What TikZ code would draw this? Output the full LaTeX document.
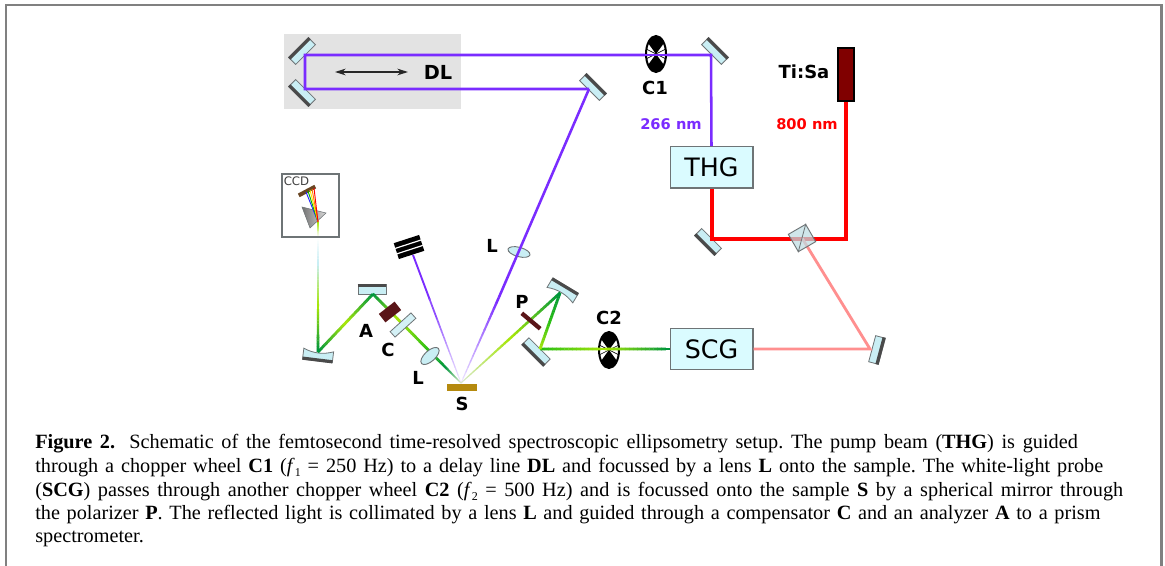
\documentclass[tikz,border=0pt]{standalone}
\usepackage{fontspec}
\setmainfont{Liberation Serif}
\newfontfamily\labfont{DejaVu Sans}
\usetikzlibrary{calc,arrows.meta,shapes.geometric}
\definecolor{framegray}{HTML}{808080}
\definecolor{pump}{RGB}{122,44,255}
\definecolor{pumppale}{HTML}{EDE4FF}
\definecolor{laserred}{RGB}{255,0,0}
\definecolor{pinkbeam}{HTML}{FF8F8F}
\definecolor{gdark}{RGB}{0,150,60}
\definecolor{gmid}{RGB}{40,190,20}
\definecolor{gyel}{RGB}{165,230,10}
\definecolor{gpale}{HTML}{D8E8C8}
\definecolor{glass}{HTML}{C9EEF4}
\definecolor{boxfill}{HTML}{DAFBFF}
\definecolor{edgegray}{HTML}{6E7476}
\definecolor{darkmetal}{HTML}{4A4A4A}
\definecolor{wine}{HTML}{5A1518}
\tikzset{
  mirrorbody/.style={draw=edgegray,line width=.6pt,fill=glass,inner sep=0pt},
  genbox/.style={draw=edgegray,line width=1pt,fill=boxfill,minimum width=62pt,minimum height=31pt,inner sep=0pt,font=\labfont\fontsize{19}{21}\selectfont},
  lab/.style={font=\labfont\bfseries\fontsize{13.5}{15}\selectfont,inner sep=0pt},
  nmlab/.style={font=\labfont\bfseries\fontsize{11}{13}\selectfont,inner sep=0pt},
  capline/.style={anchor=base west,inner sep=0pt,font=\fontsize{15.2}{17}\selectfont},
  chopperbody/.style={ellipse,draw=black,line width=1.5pt,fill=white,minimum width=15pt,minimum height=27pt,inner sep=0pt},
  lensbody/.style={ellipse,draw=edgegray,line width=.7pt,fill=glass,inner sep=0pt},
  plate/.style={draw=none,fill=wine,inner sep=0pt},
}
% name,x,y,rotation,length,thickness: dark coating on the node's north side
\newcommand\mirrorat[6]{%
  \node[mirrorbody,rotate=#4,minimum width=#5*.75pt,minimum height=#6*.75pt] (#1) at (#2,#3) {};
  \draw[darkmetal,line width=2.4pt] ($(#1.north west)!.16!(#1.south west)$) -- ($(#1.north east)!.16!(#1.south east)$);
}
% concave mirror
\newcommand\curvedmirror[4]{%
  \coordinate (#1) at (#2,#3);
  \begin{scope}[shift={(#1)},rotate=#4,x=.75pt,y=.75pt]
    \draw[edgegray,line width=.6pt,fill=glass] (-15,5) -- (15,5) -- (15,-6) .. controls (5,-2) and (-5,-2) .. (-15,-6) -- cycle;
    \draw[darkmetal,line width=2.4pt] (-15,4) -- (15,4);
  \end{scope}
}
\newcommand\chopperat[3]{%
  \node[chopperbody] (#1) at (#2,#3) {};
  \begin{scope}
    \clip (#1.center) ellipse [x radius=7.5pt,y radius=13.5pt];
    \fill[black] (#1.center) -- ++(-8pt,11pt) -- ++(0pt,5pt) -- ++(16pt,0pt) -- ++(0pt,-5pt) -- cycle;
    \fill[black] (#1.center) -- ++(-8pt,-11pt) -- ++(0pt,-5pt) -- ++(16pt,0pt) -- ++(0pt,5pt) -- cycle;
    \draw[black,line width=.5pt] (#1.center) -- ++(-8pt,4pt) (#1.center) -- ++(8pt,4pt) (#1.center) -- ++(-8pt,-4pt) (#1.center) -- ++(8pt,-4pt);
  \end{scope}
}
% from,to,w0,w1 (px),c0,c1
\newcommand\beamseg[6]{%
  \foreach \i in {0,...,15}{%
    \pgfmathtruncatemacro\pc{100*\i/15}%
    \pgfmathsetmacro\ta{\i/16}%
    \pgfmathsetmacro\tb{(\i+1.1)/16}%
    \pgfmathsetmacro\wd{(#3+(#4-#3)*\i/15)*.75}%
    \draw[line width=\wd pt,color=#6!\pc!#5] ($(#1)!\ta!(#2)$) -- ($(#1)!\tb!(#2)$);
  }%
}
\begin{document}
\begin{tikzpicture}[x=.75pt,y=-.75pt]
\useasboundingbox (0,0) rectangle (1165,566);
\fill[white] (0,0) rectangle (1165,566);
\draw[framegray,line width=1.6pt] (6,566) -- (6,5) -- (1161.5,5) -- (1161.5,566);

% delay line stage
\node[fill=black!11,draw=none,inner sep=0pt,minimum width=132.75pt,minimum height=56.25pt] (stage) at (372.5,71.5) {};
\coordinate (dlL) at (335,72); \coordinate (dlR) at (408,72);
\draw[black!85,line width=.9pt,{Stealth[length=8pt,width=5pt]}-{Stealth[length=8pt,width=5pt]}] (dlL) -- (dlR);
\node[lab,font=\labfont\bfseries\fontsize{14.5}{16}\selectfont] (DL) at (438,72) {DL};

% mirrors
\mirrorat{m1}{302}{51}{45}{28}{10}
\mirrorat{m2}{302}{93}{135}{28}{10}
\mirrorat{m3}{593}{87}{-45}{28}{10}
\mirrorat{m4}{715}{51}{-45}{28}{10}
\mirrorat{m5}{708}{242}{135}{28}{10}
\mirrorat{m6}{877}{350}{-105}{27}{10}
\mirrorat{m7}{536}{352}{135}{30}{10}
\mirrorat{m10}{372}{289}{0}{28}{10}
\curvedmirror{m8}{563}{290}{-31}
\curvedmirror{m9}{318}{356}{173}

% boxes
\node[genbox] (THG) at (711.5,167.5) {THG};
\node[genbox] (SCG) at (711.5,349) {SCG};
\node[draw=black,line width=1.5pt,fill=black!0!red!50!black,minimum width=12pt,minimum height=40pt,inner sep=0pt] (TiSa) at (846,74.5) {};

% beam vertices
\coordinate (hm1) at (305,55);
\coordinate (hm2) at (305,89);
\coordinate (hm3) at (589,89);
\coordinate (hm4) at (711,55);
\coordinate (hm5) at (712,239);
\coordinate (hm6) at (870,349);
\coordinate (hm7) at (540,349);
\coordinate (hm8) at (560,293);
\coordinate (hm9) at (318,352);
\coordinate (hm10) at (373,294);
\coordinate (hr) at (846,239);
\coordinate (hs) at (461,383);
\coordinate (hd) at (413,255);
\coordinate (hp) at (318,222);

% pump
\draw[pump,line width=1.9pt,line join=miter] (THG.north) -- (hm4) -- (hm1) -- (hm2) -- (hm3);
\node[lensbody,rotate=-15,minimum width=17pt,minimum height=7pt] (L1) at (519,252) {};
\coordinate (fadeA) at ($(L1)!.35!(hs)$);
\coordinate (fadeB) at ($(hd)!.5!(hs)$);
\draw[pump,line width=1.9pt] (hm3) -- (fadeA);
\beamseg{fadeA}{hs}{2.5}{1}{pump}{pumppale}
\draw[pump,line width=1.4pt] (hd) -- ($(hd)!.35!(hs)$);
\beamseg{fadeB}{hs}{1.7}{1}{pump!75!white}{pumppale}
\draw[pump!85!white,line width=1.3pt] ($(hd)!.34!(hs)$) -- (fadeB);

% beam dump
\node[fill=black,inner sep=0pt,rotate=18,minimum width=20pt,minimum height=12.5pt] (dump) at (409,247) {};
\draw[white,line width=.9pt] ($(dump.north west)!.33!(dump.south west)$) -- ($(dump.north east)!.33!(dump.south east)$);
\draw[white,line width=.9pt] ($(dump.north west)!.66!(dump.south west)$) -- ($(dump.north east)!.66!(dump.south east)$);

% red
\draw[laserred,line width=2.3pt,line join=miter] (TiSa.south) -- (hr) -- (hm5) -- (THG.south -| hm5);
\draw[pinkbeam,line width=2.1pt,line join=miter] (802,238) -- (hm6) -- (SCG.east);
% cube
\node[draw=edgegray,line width=.7pt,fill=glass!85!gray,fill opacity=.72,rotate=30,minimum width=15pt,minimum height=15pt,inner sep=0pt] (BS) at (802,238) {};
\draw[edgegray,line width=.6pt] (BS.north east) -- (BS.south west);

% probe
\chopperat{C2w}{609}{350}
\chopperat{C1w}{656}{54}
\draw[pump,line width=1.9pt] (C1w.west |- hm4) -- (C1w.east |- hm4);
\coordinate (g1) at ($(hm7)!.5!(SCG.west)$);
\beamseg{hm7}{g1}{2.8}{2.8}{gmid}{gyel}
\beamseg{g1}{SCG.west}{2.8}{2.8}{gyel}{gdark}
\coordinate (g2) at ($(hm8)!.5!(hm7)$);
\beamseg{hm8}{g2}{2.8}{2.8}{gdark}{gmid}
\beamseg{g2}{hm7}{2.8}{2.8}{gmid}{gyel}
\coordinate (g3) at ($(hs)!.5!(hm8)$);
\beamseg{hs}{g3}{1}{2.4}{gpale}{gyel}
\beamseg{g3}{hm8}{2.4}{2.8}{gyel}{gdark}

\coordinate (g4) at ($(hs)!.18!(hm10)$);
\coordinate (g5) at ($(hs)!.35!(hm10)$);
\coordinate (g6) at ($(hs)!.72!(hm10)$);
\beamseg{hs}{g4}{1}{2.5}{gpale}{gdark}
\beamseg{g4}{g5}{2.5}{2.8}{gdark}{gmid}
\beamseg{g5}{g6}{2.8}{2.8}{gmid}{gyel}
\beamseg{g6}{hm10}{2.8}{2.8}{gyel}{gdark}
\coordinate (g7) at ($(hm10)!.5!(hm9)$);
\beamseg{hm10}{g7}{2.8}{2.8}{gdark}{gyel}
\beamseg{g7}{hm9}{2.8}{2.8}{gyel}{gdark}
\coordinate (g8) at ($(hm9)!.35!(hp)$);
\coordinate (g9) at ($(hm9)!.68!(hp)$);
\coordinate (g10) at ($(hm9)!.88!(hp)$);
\beamseg{hm9}{g8}{2.8}{2}{gdark}{gyel}
\beamseg{g8}{g9}{2}{1.8}{gyel}{glass}
\beamseg{g9}{g10}{1.8}{1.8}{glass}{white}
\beamseg{g10}{hp}{1.8}{1.8}{white}{gyel}

% optics in the probe path
\node[plate,rotate=-40,minimum width=18pt,minimum height=3.2pt] (P) at (531,321) {};
\node[plate,rotate=38,minimum width=15pt,minimum height=8pt] (A) at (390,312) {};
\node[mirrorbody,fill=glass!80!white,rotate=42,minimum width=21pt,minimum height=5.5pt] (C) at (403,325) {};
\node[lensbody,rotate=42,minimum width=17pt,minimum height=8pt] (L2) at (430,356) {};
\node[fill={rgb,255:red,181;green,138;blue,14},draw=none,inner sep=0pt,minimum width=22.5pt,minimum height=5.2pt] (S) at (462,387.5) {};

% spectrometer
\node[draw=edgegray,line width=.9pt,fill=none,minimum width=42.75pt,minimum height=47.25pt,inner sep=0pt] (CCDbox) at (310.5,205.5) {};
\node[anchor=west,inner sep=0pt,font=\labfont\fontsize{8.8}{10}\selectfont,text=black!75] (CCD) at (283.5,181) {CCD};
\coordinate (pA) at (302,207); \coordinate (pB) at (326,213); \coordinate (pC) at (310,228);
\shade[left color=black!55,right color=black!15,draw=edgegray,line width=.4pt] (pA) -- (pB) -- (pC) -- cycle;
\node[fill=black!45!brown,inner sep=0pt,rotate=28,minimum width=14pt,minimum height=3pt] (G) at (307,191) {};
\coordinate (r1) at (306,192); \coordinate (r2) at (308,191); \coordinate (r3) at (310,190); \coordinate (r4) at (312,189); \coordinate (r5) at (314,188);
\draw[blue!85!white,line width=.7pt] (hp) -- (r1);
\draw[green!70!black,line width=.7pt] (hp) -- (r2);
\draw[yellow!90!orange,line width=.7pt] (hp) -- (r3);
\draw[orange,line width=.7pt] (hp) -- (r4);
\draw[red,line width=.7pt] (hp) -- (r5);

% labels
\node[lab] (lC1) at (655,88) {C1};
\node[lab] (lC2) at (609,318) {C2};
\node[lab] (lTi) at (804,72) {Ti:Sa};
\node[nmlab,text=pump] (l266) at (671,124) {266 nm};
\node[nmlab,text=laserred] (l800) at (807,124) {800 nm};
\node[lab] (lL1) at (492,246) {L};
\node[lab] (lP) at (522,302) {P};
\node[lab] (lS) at (462,404) {S};
\node[lab] (lA) at (366,331) {A};
\node[lab] (lC) at (388,350) {C};
\node[lab] (lL2) at (418,378) {L};

% caption
\newcommand\ff[1]{\textit{f}\raisebox{-2.5pt}{\fontsize{9}{9}\selectfont #1}}
\frenchspacing
\node[capline] (cap1) at (35,449) {\makebox[782pt][s]{\textbf{Figure 2.}\hspace{5pt} Schematic of the femtosecond time-resolved spectroscopic ellipsometry setup. The pump beam (\textbf{THG}) is guided}};
\node[capline] (cap2) at (35,473) {\makebox[801pt][s]{through a chopper wheel \textbf{C1} (\ff{1} = 250 Hz) to a delay line \textbf{DL} and focussed by a lens \textbf{L} onto the sample. The white-light probe}};
\node[capline] (cap3) at (35,497) {\makebox[816pt][s]{(\textbf{SCG}) passes through another chopper wheel \textbf{C2} (\ff{2} = 500 Hz) and is focussed onto the sample \textbf{S} by a spherical mirror through}};
\node[capline] (cap4) at (35,520) {\makebox[799pt][s]{the polarizer \textbf{P}. The reflected light is collimated by a lens \textbf{L} and guided through a compensator \textbf{C} and an analyzer \textbf{A} to a prism}};
\node[capline] (cap5) at (35,543) {spectrometer.};
\end{tikzpicture}
\end{document}
